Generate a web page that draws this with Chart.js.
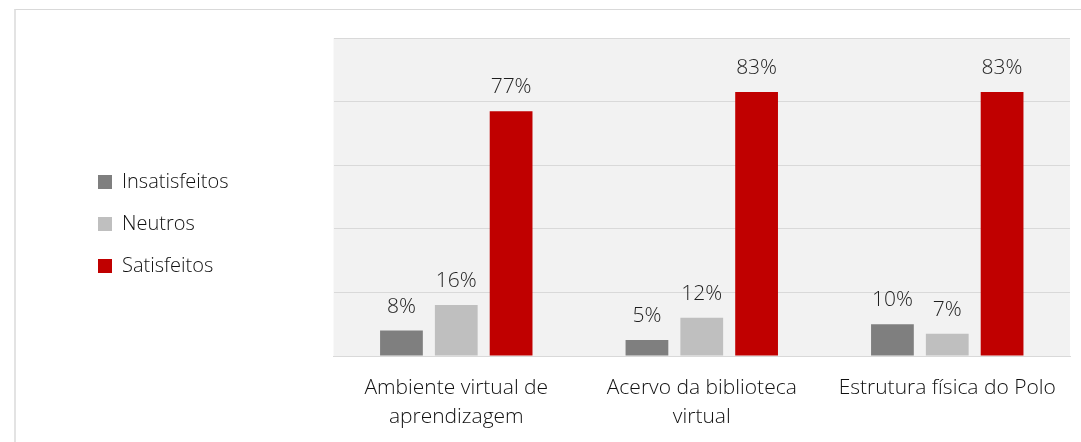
<!DOCTYPE html>
<html>
<head>
<meta charset="utf-8">
<script src="https://cdn.jsdelivr.net/npm/chart.js@4"></script>
<style>
  body { margin: 0; background: #fff; }
  #wrap { position: relative; width: 1081px; height: 442px; overflow: hidden; }
  #frame { position: absolute; left: 14px; top: 9px; width: 1100px; height: 500px;
           border-top: 1px solid #d9d9d9; border-left: 2px solid #e3e3e3; }
  canvas { position: absolute; left: 0; top: 0; }
</style>
</head>
<body>
<div id="wrap">
  <div id="frame"></div>
  <canvas id="satisfacaoChart" width="1081" height="442"></canvas>
</div>
<script>
// Data
const categories = [
  ['Ambiente virtual de', 'aprendizagem'],
  ['Acervo da biblioteca', 'virtual'],
  'Estrutura física do Polo'
];
const insatisfeitos = [8, 5, 10];
const neutros = [16, 12, 7];
const satisfeitos = [77, 83, 83];

const FONT = '"Open Sans", Lato, sans-serif';

// grey plot background
const plotBg = {
  id: 'plotBg',
  beforeDraw(chart) {
    const { ctx, chartArea: a } = chart;
    ctx.save();
    ctx.fillStyle = '#f2f2f2';
    ctx.fillRect(a.left, a.top, a.right - a.left, a.bottom - a.top + 1);
    ctx.restore();
  }
};

// move the legend block up a bit
const legendShift = {
  id: 'legendShift',
  afterLayout(chart) {
    if (chart.legend) {
      chart.legend.top -= 16;
      chart.legend.bottom -= 16;
    }
  }
};

// percent labels over the bars
const valueLabels = {
  id: 'valueLabels',
  afterDatasetsDraw(chart) {
    const ctx = chart.ctx;
    ctx.save();
    ctx.font = '300 21px ' + FONT;
    ctx.fillStyle = '#1f1f1f';
    ctx.textAlign = 'center';
    ctx.textBaseline = 'middle';
    chart.data.datasets.forEach((ds, i) => {
      chart.getDatasetMeta(i).data.forEach((bar, j) => {
        ctx.fillText(ds.data[j] + '%', bar.x, bar.y - 24);
      });
    });
    ctx.restore();
  }
};

new Chart(document.getElementById('satisfacaoChart'), {
  type: 'bar',
  data: {
    labels: categories,
    datasets: [
      { label: 'Insatisfeitos', data: insatisfeitos, backgroundColor: '#7f7f7f' },
      { label: 'Neutros', data: neutros, backgroundColor: '#bfbfbf' },
      { label: 'Satisfeitos', data: satisfeitos, backgroundColor: '#c00000' }
    ]
  },
  options: {
    responsive: false,
    animation: false,
    layout: { padding: { left: 76, right: 11, top: 38, bottom: 0 } },
    datasets: {
      bar: { categoryPercentage: 0.67, barPercentage: 0.78 }
    },
    plugins: {
      legend: {
        position: 'left',
        labels: {
          boxWidth: 14,
          boxHeight: 14,
          padding: 22,
          color: '#111',
          font: { family: FONT, size: 20, weight: 300 }
        }
      },
      tooltip: { enabled: false }
    },
    scales: {
      x: {
        grid: { display: false, drawTicks: false },
        border: { display: true, color: '#d9d9d9' },
        ticks: {
          color: '#111',
          padding: 17,
          maxRotation: 0,
          font: { family: FONT, size: 21, weight: 300, lineHeight: 1.4 }
        },
        afterFit(scale) { scale.height = 86; }
      },
      y: {
        min: 0,
        max: 100,
        ticks: { stepSize: 20, display: false },
        grid: { color: '#d9d9d9', drawTicks: false },
        border: { display: false },
        afterFit(scale) { scale.width = 95; }
      }
    }
  },
  plugins: [plotBg, legendShift, valueLabels]
});
</script>
</body>
</html>
